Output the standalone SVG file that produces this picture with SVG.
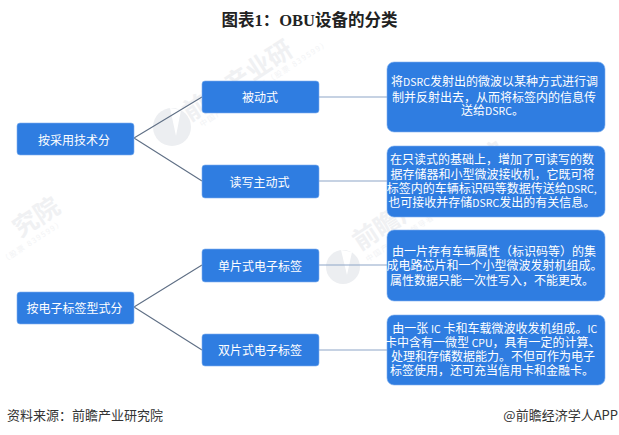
<svg xmlns="http://www.w3.org/2000/svg" width="619" height="435" viewBox="0 0 619 435">
<style>
text{font-family:"Noto Sans CJK SC","Liberation Sans",sans-serif}
.box{fill:#2f7de1;stroke:#7fb0ee;stroke-width:.6}
.t{fill:#fff;font-size:12px;text-anchor:middle;dominant-baseline:central}
.d{fill:#fff;font-size:12px;text-anchor:middle}
.d .s{font-size:10.5px}
.wm{fill:#f0f1f3;font-size:25px;font-weight:700}
.ws{fill:#f2f3f5;font-size:7.5px;letter-spacing:1.4px}
.lg{fill:#eceef1}
.c1{stroke:#5f6f85;stroke-width:1.1;fill:none}
.c2{stroke:#8ea6c8;stroke-width:1.1;fill:none}
</style>
<rect width="619" height="435" fill="#fff"/>
<g id="watermarks">
<text class="wm" transform="translate(190,122) rotate(-33)">前瞻产业研</text>
<text class="ws" transform="translate(202,127) rotate(-33)">中国产业咨询领导者（股票 839599）</text>
<text class="wm" transform="translate(20,238) rotate(-33)">究院</text>
<text class="ws" transform="translate(4,263) rotate(-33)">（股票 839599）</text>
<text class="wm" transform="translate(360,251) rotate(-33)">前瞻产业研究院</text>
<text class="ws" transform="translate(368,262) rotate(-33)">中国产业咨询领导者（股票 839599）</text>
<circle class="lg" cx="172" cy="127" r="19"/>
<path d="M170 108 176 136 181 110Z" fill="#fff"/>
<circle class="lg" cx="343" cy="267" r="17"/>
<path d="M341 250 347 275 352 252Z" fill="#fff"/>
</g>
<text x="309.500" y="26" font-size="16.500" font-weight="700" fill="#222" text-anchor="middle" style="font-family:'Liberation Serif','Noto Sans CJK SC',serif">图表1：OBU设备的分类</text>
<g id="connectors">
<path class="c1" d="M134 138 202 97M134 138 202 181M134 307 202 265M134 307 202 350"/>
<path class="c2" d="M319 97H387M319 181H387M319 265H387M319 350H387"/>
</g>
<g id="n1"><rect class="box" x="17" y="123" width="117" height="32" rx="3"/><text class="t" x="74" y="139">按采用技术分</text></g>
<g id="n2"><rect class="box" x="17" y="292" width="117" height="32" rx="3"/><text class="t" x="74.500" y="307.500">按电子标签型式分</text></g>
<g id="n3"><rect class="box" x="202" y="81" width="117" height="32" rx="3"/><text class="t" x="260" y="96.500">被动式</text></g>
<g id="n4"><rect class="box" x="202" y="165" width="117" height="33" rx="3"/><text class="t" x="259.500" y="181">读写主动式</text></g>
<g id="n5"><rect class="box" x="202" y="249" width="117" height="33" rx="3"/><text class="t" x="260" y="265">单片式电子标签</text></g>
<g id="n6"><rect class="box" x="202" y="334" width="117" height="32" rx="3"/><text class="t" x="260" y="349.500">双片式电子标签</text></g>
<g id="n7"><rect class="box" x="387" y="62" width="218" height="70" rx="7"/>
<text class="d"><tspan x="494.500" y="86">将<tspan class="s">DSRC</tspan>发射出的微波以某种方式进行调</tspan><tspan x="494" y="101.500">制并反射出去，从而将标签内的信息传</tspan><tspan x="492.500" y="115">送给<tspan class="s">DSRC</tspan>。</tspan></text></g>
<g id="n8"><rect class="box" x="387" y="146" width="218" height="71" rx="7"/>
<text class="d"><tspan x="492" y="164">在只读式的基础上，增加了可读写的数</tspan><tspan x="492.500" y="178.500">据存储器和小型微波接收机，它既可将</tspan><tspan x="491.700" y="193">标签内的车辆标识码等数据传送给<tspan class="s">DSRC,</tspan></tspan><tspan x="491.700" y="206.500">也可接收并存储<tspan class="s">DSRC</tspan>发出的有关信息。</tspan></text></g>
<g id="n9"><rect class="box" x="387" y="230" width="218" height="71" rx="7"/>
<text class="d"><tspan x="494" y="256">由一片存有车辆属性（标识码等）的集</tspan><tspan x="494.500" y="270">成电路芯片和一个小型微波发射机组成。</tspan><tspan x="492" y="284.500">属性数据只能一次性写入，不能更改。</tspan></text></g>
<g id="n10"><rect class="box" x="387" y="315" width="218" height="70" rx="7"/>
<text class="d"><tspan x="494.700" y="332.500">由一张 <tspan class="s">IC</tspan> 卡和车载微波收发机组成。<tspan class="s">IC</tspan></tspan><tspan x="492.800" y="347">卡中含有一微型 <tspan class="s">CPU</tspan>，具有一定的计算、</tspan><tspan x="493" y="361">处理和存储数据能力。不但可作为电子</tspan><tspan x="492" y="374.500">标签使用，还可充当信用卡和金融卡。</tspan></text></g>
<text x="7" y="420" font-size="13" fill="#333">资料来源：前瞻产业研究院</text>
<text x="618" y="420" font-size="13" fill="#333" text-anchor="end">@前瞻经济学人APP</text>
</svg>
